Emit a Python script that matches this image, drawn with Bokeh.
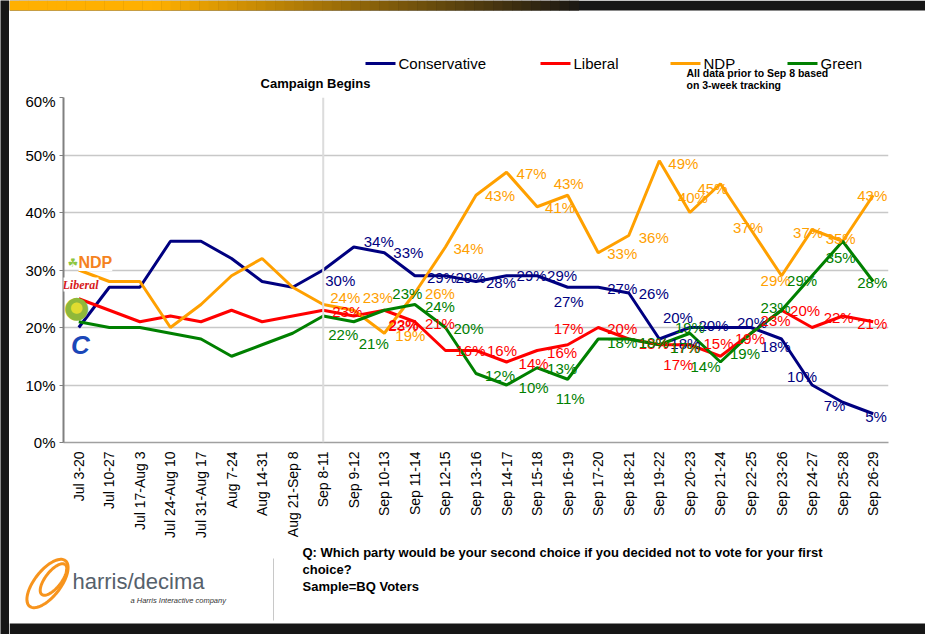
import math
from bokeh.plotting import figure
from bokeh.layouts import column, row
from bokeh.models import (FactorRange, Range1d, Span, Label, PrintfTickFormatter,
                          FixedTicker, ColumnDataSource)
from bokeh.embed import file_html
from bokeh.resources import INLINE
from bokeh.core.properties import value

# ---------------- data ----------------
periods = ["Jul 3-20", "Jul 10-27", "Jul 17-Aug 3", "Jul 24-Aug 10", "Jul 31-Aug 17",
           "Aug 7-24", "Aug 14-31", "Aug 21-Sep 8", "Sep 8-11", "Sep 9-12", "Sep 10-13",
           "Sep 11-14", "Sep 12-15", "Sep 13-16", "Sep 14-17", "Sep 15-18", "Sep 16-19",
           "Sep 17-20", "Sep 18-21", "Sep 19-22", "Sep 20-23", "Sep 21-24", "Sep 22-25",
           "Sep 23-26", "Sep 24-27", "Sep 25-28", "Sep 26-29"]
conservative = [20, 27, 27, 35, 35, 32, 28, 27, 30, 34, 33, 29, 29, 28, 29, 29, 27, 27, 26,
                18, 20, 20, 20, 18, 10, 7, 5]
liberal = [25, 23, 21, 22, 21, 23, 21, 22, 23, 22, 23, 21, 16, 16, 14, 16, 17, 20, 18,
           17, 17, 15, 19, 23, 20, 22, 21]
ndp = [30, 28, 28, 20, 24, 29, 32, 27, 24, 23, 19, 26, 34, 43, 47, 41, 43, 33, 36,
       49, 40, 45, 37, 29, 37, 35, 43]
green = [21, 20, 20, 19, 18, 15, 17, 19, 22, 21, 23, 24, 20, 12, 10, 13, 11, 18, 18,
         17, 19, 14, 19, 23, 29, 35, 28]
party_names = ["Conservative", "Liberal", "NDP", "Green"]
y_ticks = [0, 10, 20, 30, 40, 50, 60]
campaign_start = "Sep 8-11"   # labels shown from this period on

# ---------------- label offsets (styling, px) ----------------
cons_dx = [2, 10, 9, 12, 10, 10, 10, 10, -14, 9, 10, 11, -27, -22, -14, -21, -25, -19, -8]
cons_dy = [10, -6, 0, 2, 2, 1, 0, 0, 14, 1, 0, 4, -10, -2, -5, 7, -9, 3, 3]
lib_dx = [9, 35, 4, 10, 10, 11, 12, 10, -14, 9, 10, 4, -20, -17, -16, -21, -22, -19, -16]
lib_dy = [1, 8, 15, 2, 0, 0, 1, 2, -16, 1, 4, 20, 3, -13, 5, 10, -17, 1, 2]
ndp_dx = [7, 9, 11, 10, 8, 9, 10, 8, -14, 9, 10, 9, -12, -23, -18, -21, -19, -17, -16]
ndp_dy = [-7, -13, 2, 0, 1, 0, 1, 1, -12, 1, 2, 3, -15, 5, -2, 5, 3, -3, 0]
grn_dx = [5, 5, 8, 10, 8, 9, 12, 10, -12, 9, 10, 11, -15, -30, -21, -21, -25, -17, -16]
grn_dy = [18, 22, -17, 2, 1, 2, 2, 1, 19, 3, 3, 3, -6, 4, 20, -3, 5, 16, 1]
legend_x = [365, 540, 670, 787]       # page x of each legend sample line

FONT = "Liberation Sans"
DARK = "#161616"
PAGE_W, PAGE_H = 925, 634
STRIP = 9                      # dark strip on the left
TOP_H, BOT_Y = 92, 542         # split of the page into three stacked figures
FX, FY = 63, 442               # page position of the main frame's bottom-left corner
W = PAGE_W - STRIP


def blank(height, y0, y1):
    f = figure(width=W, height=height, x_range=Range1d(STRIP, PAGE_W), y_range=Range1d(y1, y0),
               output_backend="svg", toolbar_location=None, x_axis_type=None, y_axis_type=None,
               min_border=0, min_border_left=0, min_border_right=0, min_border_top=0,
               min_border_bottom=0, outline_line_color=None, frame_align=False,
               background_fill_color="white", border_fill_color="white")
    f.grid.visible = False
    return f


# ---------------- main chart ----------------
p = figure(width=W, height=BOT_Y - TOP_H, x_range=FactorRange(factors=periods),
           y_range=Range1d(0, 60), output_backend="svg", toolbar_location=None,
           min_border_left=FX - STRIP, min_border_right=PAGE_W - 888,
           min_border_top=97 - TOP_H, min_border_bottom=BOT_Y - FY, frame_align=False,
           background_fill_color="white", border_fill_color="white", outline_line_color=None)

p.yaxis.ticker = FixedTicker(ticks=y_ticks)
p.yaxis.formatter = PrintfTickFormatter(format="%d%%")
p.yaxis.major_label_text_font = FONT
p.yaxis.major_label_text_font_size = "15px"
p.yaxis.major_label_text_color = "black"
p.yaxis.axis_line_color = "#808080"
p.yaxis.axis_line_width = 2
p.yaxis.major_tick_line_color = "#808080"
p.yaxis.major_tick_out = 4
p.yaxis.major_tick_in = 0
p.yaxis.minor_tick_line_color = None
p.yaxis.major_label_standoff = 4

p.xaxis.major_label_orientation = math.pi / 2
p.xaxis.major_label_text_font = FONT
p.xaxis.major_label_text_font_size = "14px"
p.xaxis.major_label_text_color = "black"
p.xaxis.axis_line_color = "#a0a0a0"
p.xaxis.axis_line_width = 1.5
p.xaxis.major_tick_line_color = None
p.xaxis.major_tick_out = 0
p.xaxis.major_label_standoff = 9

p.xgrid.grid_line_color = None
p.ygrid.grid_line_color = "#c8c8c8"
p.ygrid.grid_line_width = 1.5

p.add_layout(Span(location=periods.index(campaign_start) + 0.5, dimension="height",
                  line_color="#dcdcdc", line_width=2))

colors = ["#000080", "#ff0000", "#ffa000", "#008000"]
series = list(zip(party_names, [conservative, liberal, ndp, green], colors,
                  [cons_dx, lib_dx, ndp_dx, grn_dx], [cons_dy, lib_dy, ndp_dy, grn_dy]))

for name, vals, col, dx, dy in series:
    p.line(x=periods, y=vals, line_color=col, line_width=3)

start = periods.index(campaign_start)
for name, vals, col, dx, dy in series:
    src = ColumnDataSource(dict(x=periods[start:], y=vals[start:],
                                t=["%d%%" % v for v in vals[start:]], dx=dx, dy=dy))
    p.text(x="x", y="y", text="t", x_offset="dx", y_offset="dy", source=src,
           text_font=value(FONT), text_font_size=value("15px"), text_color=col,
           text_align="left", text_baseline="middle")


def frame_label(x, y, text, size, color="black", style="normal", align="left",
                font=FONT, bg=None):
    p.add_layout(Label(x=x - FX, y=FY - y, x_units="screen", y_units="screen", text=text,
                       text_font=font, text_font_size=size, text_color=color,
                       text_font_style=style, text_align=align, text_baseline="middle",
                       background_fill_color=bg))


# party logos at the left of the plot area
frame_label(78, 262, "NDP", "16px", color="#f58220", style="bold", bg="white")
frame_label(67, 262, "\u2618", "12px", color="#8dc63f", font="DejaVu Sans")
frame_label(62, 284, "Liberal", "12px", color="#d71920", style="bold italic",
            font="Liberation Serif", bg="white")
frame_label(76, 306, "\u25CF", "30px", color="#8fb83a", align="center", font="DejaVu Sans")
frame_label(76, 306, "\u25CF", "15px", color="#e0dc30", align="center", font="DejaVu Sans")
frame_label(80, 344, "C", "26px", color="#1a47b8", style="bold italic", align="center")

# ---------------- top strip: legend and notes ----------------
top = blank(TOP_H, 0, TOP_H)
top.quad(left=STRIP, right=PAGE_W, top=0, bottom=10, fill_color=DARK, line_color=None)
n = 60
for k in range(n):
    x0 = STRIP + (578 - STRIP) * k / n
    x1 = STRIP + (578 - STRIP) * (k + 1) / n
    t = max(0.0, (x0 - 150) / (578 - 150))
    c0, c1 = (255, 176, 0), (24, 22, 20)
    rgb = tuple(int(c0[i] + (c1[i] - c0[i]) * t) for i in range(3))
    top.quad(left=x0, right=x1 + 0.5, top=0, bottom=10, fill_color="#%02x%02x%02x" % rgb,
             line_color=None)


def data_label(fig, x, y, text, size, color="black", style="normal", align="left", font=FONT):
    fig.add_layout(Label(x=x, y=y, text=text, text_font=font, text_font_size=size,
                         text_color=color, text_font_style=style, text_align=align,
                         text_baseline="middle"))


# legend (drawn in the top strip)
top.segment(x0=legend_x, x1=[x + 30 for x in legend_x], y0=[63] * 4, y1=[63] * 4,
            line_color=colors, line_width=3)
top.text(x=[x + 33 for x in legend_x], y=[63] * 4, text=party_names,
         text_font=value(FONT), text_font_size=value("15px"), text_color="black",
         text_baseline="middle", text_align="left")

data_label(top, 315, 83, "Campaign Begins", "13px", style="bold", align="center")
data_label(top, 686, 72, "All data prior to Sep 8 based", "10.5px", style="bold")
data_label(top, 686, 84, "on 3-week tracking", "10.5px", style="bold")

# ---------------- bottom strip: question and logo ----------------
bot = blank(PAGE_H - BOT_Y, BOT_Y, PAGE_H)
bot.quad(left=STRIP, right=PAGE_W, top=623, bottom=PAGE_H, fill_color=DARK, line_color=None)
data_label(bot, 302, 552,
           "Q: Which party would be your second choice if you decided not to vote for your first",
           "13px", style="bold")
data_label(bot, 302, 569, "choice?", "13px", style="bold")
data_label(bot, 302, 586, "Sample=BQ Voters", "13px", style="bold")
data_label(bot, 72, 581, "harris/decima", "22px", color="#56616b")
data_label(bot, 130, 600, "a Harris Interactive company", "7.5px", color="#333333", style="italic")
bot.line(x=[273, 273], y=[558, 620], line_color="#c8c8c8", line_width=1)


def ellipse(cx, cy, a, b, ang):
    xs, ys = [], []
    for k in range(73):
        t = 2 * math.pi * k / 72
        ex, ey = a * math.cos(t), b * math.sin(t)
        xs.append(cx + ex * math.cos(ang) - ey * math.sin(ang))
        ys.append(cy + ex * math.sin(ang) + ey * math.cos(ang))
    return xs, ys


for (cx, cy, a, b) in [(47, 583, 29, 13), (53, 579, 19, 8)]:
    xs, ys = ellipse(cx, cy, a, b, math.radians(-52))
    bot.line(x=xs, y=ys, line_color="#f7941d", line_width=3)

# ---------------- dark left strip ----------------
strip = figure(width=STRIP, height=PAGE_H, output_backend="svg", toolbar_location=None,
               x_axis_type=None, y_axis_type=None, min_border=0, min_border_left=0,
               min_border_right=0, min_border_top=0, min_border_bottom=0, frame_align=False,
               outline_line_color=None, background_fill_color=DARK, border_fill_color=DARK)
strip.grid.visible = False

layout = row(strip, column(top, p, bot, spacing=0), spacing=0)
open("out.html", "w").write(file_html(layout, INLINE))
